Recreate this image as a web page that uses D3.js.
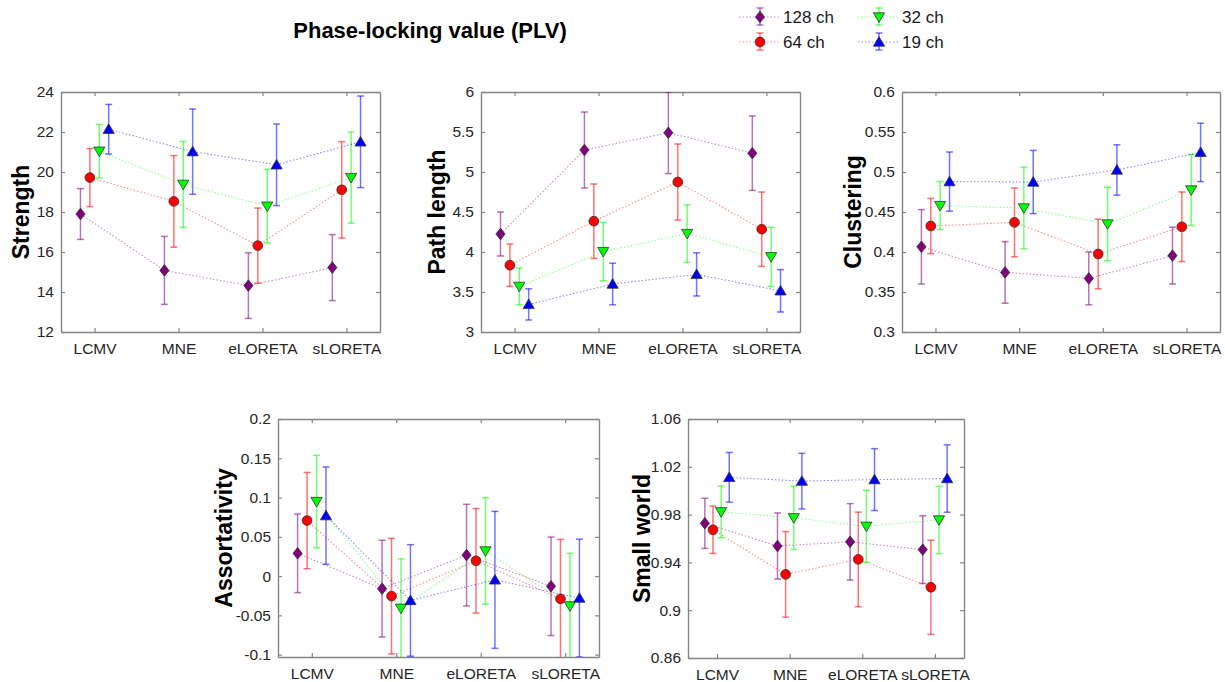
<!DOCTYPE html>
<html>
<head>
<meta charset="utf-8">
<script src="https://cdn.jsdelivr.net/npm/d3@7"></script>
<style>
  body { margin: 0; background: #fff; }
  svg text { font-family: "Liberation Sans", Arial, sans-serif; }
</style>
</head>
<body>
<script>
// Categories and series
const methods = ["LCMV", "MNE", "eLORETA", "sLORETA"];
const seriesNames = ["128 ch", "64 ch", "32 ch", "19 ch"];
const seriesColors = ["#800080", "#ff0000", "#00ff00", "#0000ff"];

// mean and error half-width, one row per series, one column per method
const strengthMean = [[17.90, 15.08, 14.32, 15.22], [19.72, 18.53, 16.32, 19.11], [21.04, 19.38, 18.29, 19.72], [22.14, 21.02, 20.36, 21.51]];
const strengthErr  = [[1.27, 1.70, 1.64, 1.65], [1.45, 2.29, 1.88, 2.41], [1.34, 2.15, 1.84, 2.28], [1.24, 2.13, 2.04, 2.29]];

const pathMean = [[4.225, 5.275, 5.49, 5.235], [3.835, 4.385, 4.875, 4.285], [3.57, 4.005, 4.23, 3.94], [3.345, 3.60, 3.72, 3.515]];
const pathErr  = [[0.275, 0.475, 0.51, 0.465], [0.265, 0.465, 0.475, 0.465], [0.23, 0.365, 0.36, 0.37], [0.195, 0.26, 0.27, 0.265]];

const clusterMean = [[0.4065, 0.3745, 0.367, 0.3955], [0.4325, 0.437, 0.3975, 0.4315], [0.458, 0.455, 0.435, 0.4775], [0.488, 0.4875, 0.5025, 0.5245]];
const clusterErr  = [[0.0465, 0.0385, 0.033, 0.0355], [0.0345, 0.043, 0.0435, 0.0435], [0.030, 0.051, 0.046, 0.0445], [0.037, 0.0395, 0.0315, 0.0365]];

const assortMean = [[0.029, -0.016, 0.0267, -0.013], [0.0707, -0.0255, 0.0195, -0.029], [0.0949, -0.041, 0.032, -0.038], [0.077, -0.031, -0.0048, -0.028]];
const assortErr  = [[0.050, 0.0616, 0.0647, 0.0627], [0.0613, 0.0735, 0.0665, 0.0757], [0.0589, 0.063, 0.0678, 0.067], [0.062, 0.071, 0.0872, 0.075]];

const smallMean = [[0.9727, 0.9537, 0.9572, 0.9507], [0.9673, 0.930, 0.9425, 0.9192], [0.9823, 0.9773, 0.9702, 0.9755], [1.0112, 1.008, 1.0093, 1.0102]];
const smallErr  = [[0.021, 0.0277, 0.032, 0.0283], [0.0198, 0.0358, 0.0396, 0.0394], [0.0217, 0.0265, 0.0302, 0.0283], [0.0208, 0.0233, 0.0259, 0.0282]];

// Tick labels
const strengthTicks = [12, 14, 16, 18, 20, 22, 24];
const pathTicks = [3, 3.5, 4, 4.5, 5, 5.5, 6];
const clusterTicks = [0.3, 0.35, 0.4, 0.45, 0.5, 0.55, 0.6];
const assortTicks = [-0.1, -0.05, 0, 0.05, 0.1, 0.15, 0.2];
const smallTicks = [0.86, 0.9, 0.94, 0.98, 1.02, 1.06];

const WIDTH = 1225;
const HEIGHT = 682;
const offsets = [-0.168, -0.056, 0.056, 0.168];

const panels = [
  {label: "Strength", mean: strengthMean, err: strengthErr, ticks: strengthTicks, domain: [12, 24], x0: 61, x1: 380, y0: 92, y1: 332, labelX: 29},
  {label: "Path length", mean: pathMean, err: pathErr, ticks: pathTicks, domain: [3, 6], x0: 481, x1: 800, y0: 92, y1: 332, labelX: 445},
  {label: "Clustering", mean: clusterMean, err: clusterErr, ticks: clusterTicks, domain: [0.3, 0.6], x0: 902, x1: 1220, y0: 92, y1: 332, labelX: 861},
  {label: "Assortativity", mean: assortMean, err: assortErr, ticks: assortTicks, domain: [-0.103, 0.2], x0: 278, x1: 599, y0: 419, y1: 657, labelX: 232},
  {label: "Small world", mean: smallMean, err: smallErr, ticks: smallTicks, domain: [0.86, 1.06], x0: 688, x1: 964, y0: 419, y1: 658, labelX: 650}
];

const svg = d3.select("body").append("svg")
  .attr("width", WIDTH)
  .attr("height", HEIGHT);

/** Marker symbols, one per series */
function markerPath(i) {
  if (i === 0) return "M0,-5.8 L4.6,0 L0,5.8 L-4.6,0 Z";
  if (i === 1) return d3.symbol(d3.symbolCircle, 75)();
  if (i === 2) return "M-5.6,-4.2 L5.6,-4.2 L0,5.4 Z";
  return "M-5.6,4.2 L5.6,4.2 L0,-5.4 Z";
}

const fmt = v => String(+v.toFixed(3));

panels.forEach(function(p, pi) {
  const x = d3.scaleLinear().domain([0.6, 4.4]).range([p.x0, p.x1]);
  const y = d3.scaleLinear().domain(p.domain).range([p.y1, p.y0]);
  const g = svg.append("g");

  // box and mirrored ticks
  g.append("g").attr("transform", `translate(${p.x0},0)`)
    .call(d3.axisLeft(y).tickValues(p.ticks).tickFormat(fmt).tickSizeInner(-4).tickSizeOuter(0).tickPadding(7));
  g.append("g").attr("transform", `translate(${p.x1},0)`)
    .call(d3.axisRight(y).tickValues(p.ticks).tickFormat("").tickSizeInner(-4).tickSizeOuter(0));
  g.append("g").attr("transform", `translate(0,${p.y1})`)
    .call(d3.axisBottom(x).tickValues([1, 2, 3, 4]).tickFormat((d, i) => methods[i]).tickSizeInner(-4).tickSizeOuter(0).tickPadding(11));
  g.append("g").attr("transform", `translate(0,${p.y0})`)
    .call(d3.axisTop(x).tickValues([1, 2, 3, 4]).tickFormat("").tickSizeInner(-4).tickSizeOuter(0));

  g.selectAll(".domain").attr("stroke", "#858585").attr("stroke-width", 1.4);
  g.selectAll(".tick line").attr("stroke", "#858585").attr("stroke-width", 1.2);
  g.selectAll(".tick text").attr("font-size", 15.5).attr("fill", "#262626")
    .attr("font-family", '"Liberation Sans", Arial, sans-serif');

  // y label
  g.append("text")
    .attr("transform", `translate(${p.labelX},${(p.y0 + p.y1) / 2}) rotate(-90)`)
    .attr("text-anchor", "middle")
    .attr("font-size", 23)
    .attr("font-weight", "bold")
    .attr("fill", "#000")
    .text(p.label);

  // clip for error bars running out of the box
  const clipId = "clip" + pi;
  svg.append("clipPath").attr("id", clipId)
    .append("rect").attr("x", p.x0).attr("y", p.y0).attr("width", p.x1 - p.x0).attr("height", p.y1 - p.y0);

  const plot = g.append("g").attr("clip-path", `url(#${clipId})`);

  seriesNames.forEach(function(name, si) {
    const pts = methods.map((m, mi) => ({
      x: x(mi + 1 + offsets[si]),
      y: y(p.mean[si][mi]),
      lo: y(p.mean[si][mi] - p.err[si][mi]),
      hi: y(p.mean[si][mi] + p.err[si][mi])
    }));
    const sg = plot.append("g");
    const color = seriesColors[si];

    sg.append("path")
      .attr("d", d3.line().x(d => d.x).y(d => d.y)(pts))
      .attr("fill", "none")
      .attr("stroke", color)
      .attr("stroke-opacity", 0.45)
      .attr("stroke-width", 1.1)
      .attr("stroke-dasharray", "1.5,2");

    const bars = sg.selectAll(".eb").data(pts).enter().append("g")
      .attr("stroke", color)
      .attr("stroke-opacity", 0.55)
      .attr("stroke-width", 1.5);
    bars.append("line").attr("x1", d => d.x).attr("x2", d => d.x).attr("y1", d => d.lo).attr("y2", d => d.hi);
    bars.append("line").attr("x1", d => d.x - 3.5).attr("x2", d => d.x + 3.5).attr("y1", d => d.lo).attr("y2", d => d.lo);
    bars.append("line").attr("x1", d => d.x - 3.5).attr("x2", d => d.x + 3.5).attr("y1", d => d.hi).attr("y2", d => d.hi);
  });

  // markers on top, in series order
  seriesNames.forEach(function(name, si) {
    svg.append("g").selectAll("path").data(methods).enter().append("path")
      .attr("transform", (m, mi) => `translate(${x(mi + 1 + offsets[si])},${y(p.mean[si][mi])})`)
      .attr("d", markerPath(si))
      .attr("fill", seriesColors[si])
      .attr("stroke", "#333")
      .attr("stroke-width", 0.8);
  });
});

// title
svg.append("text")
  .attr("x", 430).attr("y", 38)
  .attr("text-anchor", "middle")
  .attr("font-family", "Lato, 'Open Sans', sans-serif")
  .attr("font-weight", "bold")
  .attr("font-size", 22)
  .attr("fill", "#000")
  .text("Phase-locking value (PLV)");

// legend
const legendPos = [[760, 17], [760, 42], [879, 17], [879, 42]];
seriesNames.forEach(function(name, si) {
  const [lx, ly] = legendPos[si];
  const lg = svg.append("g").attr("transform", `translate(${lx},${ly})`);
  const color = seriesColors[si];
  lg.append("line").attr("x1", -21).attr("x2", 20).attr("y1", 0).attr("y2", 0)
    .attr("stroke", color).attr("stroke-opacity", 0.45).attr("stroke-width", 1.1).attr("stroke-dasharray", "1.5,2");
  const eb = lg.append("g").attr("stroke", color).attr("stroke-opacity", 0.55).attr("stroke-width", 1.5);
  eb.append("line").attr("x1", 0).attr("x2", 0).attr("y1", -9).attr("y2", 8);
  eb.append("line").attr("x1", -3.5).attr("x2", 3.5).attr("y1", -9).attr("y2", -9);
  eb.append("line").attr("x1", -3.5).attr("x2", 3.5).attr("y1", 8).attr("y2", 8);
  lg.append("path").attr("d", markerPath(si)).attr("fill", color).attr("stroke", "#333").attr("stroke-width", 0.8);
  lg.append("text").attr("x", 23).attr("y", 0).attr("dy", "0.35em")
    .attr("font-size", 17).attr("fill", "#1a1a1a").text(name);
});
</script>
</body>
</html>
